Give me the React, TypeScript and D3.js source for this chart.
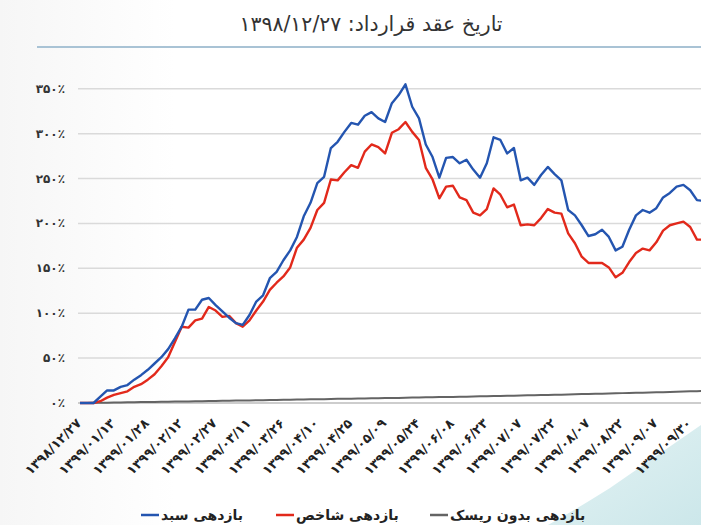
import { scaleLinear, line as d3line } from "d3";

const title = "تاریخ عقد قرارداد: ۱۳۹۸/۱۲/۲۷";

const dateLabels = [
  "۱۳۹۸/۱۲/۲۷", "۱۳۹۹/۰۱/۱۳", "۱۳۹۹/۰۱/۲۸", "۱۳۹۹/۰۲/۱۲", "۱۳۹۹/۰۲/۲۷",
  "۱۳۹۹/۰۳/۱۱", "۱۳۹۹/۰۳/۲۶", "۱۳۹۹/۰۴/۱۰", "۱۳۹۹/۰۴/۲۵", "۱۳۹۹/۰۵/۰۹",
  "۱۳۹۹/۰۵/۲۴", "۱۳۹۹/۰۶/۰۸", "۱۳۹۹/۰۶/۲۳", "۱۳۹۹/۰۷/۰۷", "۱۳۹۹/۰۷/۲۲",
  "۱۳۹۹/۰۸/۰۷", "۱۳۹۹/۰۸/۲۲", "۱۳۹۹/۰۹/۰۷", "۱۳۹۹/۰۹/۳۰",
];

const yTicks = [0, 50, 100, 150, 200, 250, 300, 350];
const yTickLabels = ["۰٪", "۵۰٪", "۱۰۰٪", "۱۵۰٪", "۲۰۰٪", "۲۵۰٪", "۳۰۰٪", "۳۵۰٪"];

// بازدهی سبد (%)
const portfolio = [
  0, 0, 0, 7, 14, 14, 18, 20, 26, 31,
  37, 44, 51, 60, 72, 85, 104, 104, 115, 117,
  109, 102, 95, 89, 87, 98, 113, 120, 139, 146,
  159, 170, 185, 208, 223, 245, 252, 284, 291, 302,
  312, 310, 320, 324, 317, 313, 334, 343, 355, 330,
  317, 288, 274, 251, 273, 274, 267, 271, 260, 251,
  267, 296, 293, 278, 284, 248, 251, 243, 254, 263,
  255, 248, 215, 209, 198, 186, 188, 193, 185, 170,
  174, 193, 209, 215, 212, 217, 229, 234, 241, 243,
  237, 226, 225,
];

// بازدهی شاخص (%)
const benchmark = [
  0, 0, 0, 2, 6, 9, 11, 13, 18, 21,
  26, 32, 41, 51, 68, 85, 84, 92, 94, 107,
  103, 96, 97, 89, 85, 92, 103, 113, 126, 134,
  141, 151, 173, 182, 195, 215, 223, 249, 248, 257,
  265, 262, 280, 288, 285, 278, 301, 305, 313, 302,
  293, 262, 249, 228, 241, 242, 229, 226, 212, 209,
  216, 239, 232, 218, 221, 198, 199, 198, 206, 216,
  212, 211, 189, 178, 163, 156, 156, 156, 151, 140,
  145, 157, 167, 172, 170, 179, 192, 198, 200, 202,
  196, 182, 182,
];

// بازدهی بدون ریسک (%)
const riskFree = [
  0, 0.1, 0.2, 0.3, 0.4, 0.5, 0.6, 0.7, 0.8, 1.0,
  1.1, 1.2, 1.3, 1.4, 1.6, 1.7, 1.8, 1.9, 2.0, 2.2,
  2.3, 2.4, 2.5, 2.7, 2.8, 2.9, 3.0, 3.2, 3.3, 3.4,
  3.6, 3.7, 3.8, 3.9, 4.1, 4.2, 4.3, 4.4, 4.6, 4.7,
  4.8, 5.0, 5.1, 5.2, 5.3, 5.5, 5.6, 5.7, 5.9, 6.0,
  6.1, 6.3, 6.4, 6.6, 6.7, 6.8, 7.0, 7.1, 7.3, 7.4,
  7.6, 7.7, 7.9, 8.0, 8.2, 8.3, 8.5, 8.7, 8.8, 9.0,
  9.2, 9.3, 9.5, 9.7, 9.9, 10.1, 10.2, 10.4, 10.6, 10.8,
  11.0, 11.2, 11.4, 11.5, 11.7, 11.9, 12.1, 12.3, 12.5, 12.7,
  13.0, 13.2, 13.4,
];

const seriesNames = ["بازدهی سبد", "بازدهی شاخص", "بازدهی بدون ریسک"];
const seriesColors = ["#2455b0", "#e2291b", "#646464"];

const LABEL_STEP = 5; // points between two date labels

export default function App() {
  const W = 701;
  const H = 525;
  const x = scaleLinear().domain([0, (dateLabels.length - 1) * LABEL_STEP]).range([80, 690.2]);
  const y = scaleLinear().domain([0, 350]).range([403, 88.8]);

  const mk = d3line<number>()
    .x((_, i) => x(i))
    .y((d) => y(d));

  const allSeries = [portfolio, benchmark, riskFree];
  const fontFa = "'DejaVu Sans', sans-serif";
  const legendX = [141, 276, 430];

  return (
    <div style={{ position: "absolute", left: 0, top: 0, width: W, height: H }}>
      <svg width={W} height={H} style={{ display: "block" }}>
        <defs>
          <linearGradient id="bg" x1="0" y1="0" x2="1" y2="0">
            <stop offset="0%" stopColor="#f6f6f6" />
            <stop offset="25%" stopColor="#ffffff" />
          </linearGradient>
          <linearGradient id="corner" x1="0" y1="0" x2="1" y2="1">
            <stop offset="0%" stopColor="#e4f3f4" />
            <stop offset="100%" stopColor="#cce7ea" />
          </linearGradient>
        </defs>
        <rect width={W} height={H} fill="url(#bg)" />
        <path d="M701 425 L610 488 Q575 510 548 525 L701 525 Z" fill="url(#corner)" />

        <text x={371} y={31} textAnchor="middle" direction="rtl" fontFamily={fontFa} fontSize={20.5} fill="#333">
          {title}
        </text>
        <line x1={37} x2={W} y1={47} y2={47} stroke="#a9c3d5" strokeWidth={2} />

        {yTicks.map((t, i) => (
          <g key={t}>
            <line x1={78} x2={W} y1={y(t)} y2={y(t)} stroke={i === 0 ? "#bdbdbd" : "#dadada"} strokeWidth={1.5} />
            <text x={65} y={y(t) + 4} textAnchor="end" fontFamily={fontFa} fontWeight="bold" fontSize={12} fill="#333">
              {yTickLabels[i]}
            </text>
          </g>
        ))}

        {dateLabels.map((d, i) => {
          const tx = x(i * LABEL_STEP) + 2;
          const ty = 424;
          return (
            <text
              key={d + i}
              x={tx}
              y={ty}
              transform={`rotate(-45 ${tx} ${ty})`}
              textAnchor="end"
              fontFamily={fontFa}
              fontWeight="bold"
              fontSize={13}
              letterSpacing={0.6}
              fill="#222"
            >
              {d}
            </text>
          );
        })}

        {[2, 1, 0].map((k) => (
          <path
            key={k}
            d={mk(allSeries[k]) ?? undefined}
            fill="none"
            stroke={seriesColors[k]}
            strokeWidth={k === 2 ? 2 : 2.4}
            strokeLinejoin="round"
          />
        ))}

        {seriesNames.map((n, k) => (
          <g key={n}>
            <line x1={legendX[k]} x2={legendX[k] + 18} y1={515} y2={515} stroke={seriesColors[k]} strokeWidth={2.5} />
            <text x={legendX[k] + 20} y={520} fontFamily={fontFa} fontWeight="bold" fontSize={14} fill="#222">
              {n}
            </text>
          </g>
        ))}
      </svg>
    </div>
  );
}
